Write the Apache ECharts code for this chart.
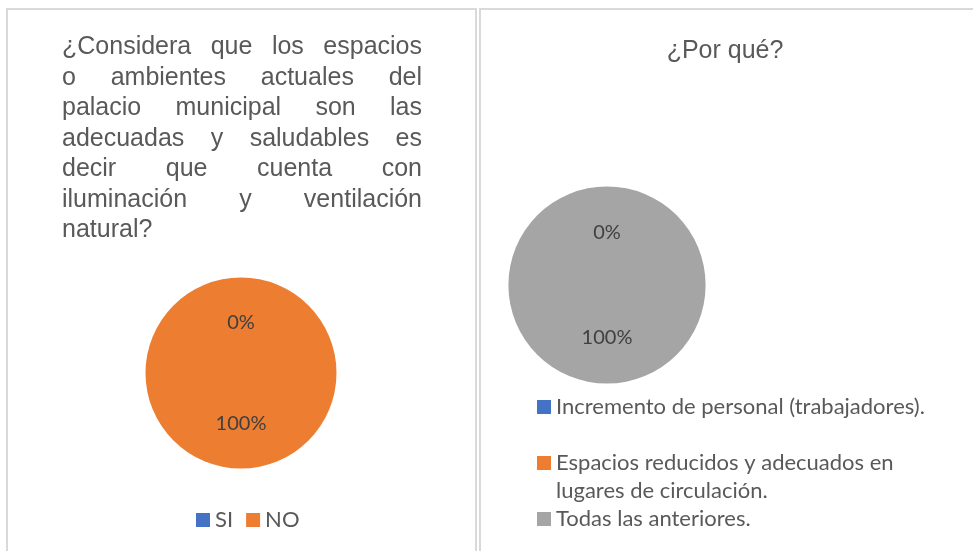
<!DOCTYPE html>
<html lang="es">
<head>
    <meta charset="UTF-8">
    <title>Encuesta palacio municipal</title>
    <style>
        body { margin: 0; background: #fff; }
        #chart { width: 973px; height: 551px; }
    </style>
</head>
<body>
<div id="chart"></div>
<script src="https://cdn.jsdelivr.net/npm/echarts@6/dist/echarts.min.js"></script>
<script type="text/javascript">
    // datos del primer gráfico
    var respuestas = ['SI', 'NO'];
    var valoresRespuesta = [0, 100];
    // datos del segundo gráfico (¿Por qué?)
    var motivos = [
        'Incremento de personal (trabajadores).',
        'Espacios reducidos y adecuados en lugares de circulación.',
        'Todas las anteriores.'
    ];
    var valoresMotivo = [0, 0, 100];
    var colores = ['#4472C4', '#ED7D31', '#A5A5A5'];

    // lineas del titulo izquierdo (texto justificado)
    var tituloLineas = [
        '¿Considera que los espacios',
        'o ambientes actuales del',
        'palacio municipal son las',
        'adecuadas y saludables es',
        'decir que cuenta con',
        'iluminación y ventilación',
        'natural?'
    ];

    var fuenteTitulo = '25px "Liberation Sans", Arial, sans-serif';
    var ctx = document.createElement('canvas').getContext('2d');
    ctx.font = fuenteTitulo;

    // arma el texto justificado palabra por palabra
    function tituloJustificado(lineas, x0, ancho, y0, paso) {
        var out = [];
        lineas.forEach(function (linea, i) {
            var palabras = linea.split(' ');
            var y = y0 + i * paso;
            var ultima = i === lineas.length - 1;
            var total = 0;
            palabras.forEach(function (p) { total += ctx.measureText(p).width; });
            var hueco = (ultima || palabras.length < 2) ? ctx.measureText(' ').width
                : (ancho - total) / (palabras.length - 1);
            var x = x0;
            palabras.forEach(function (p) {
                out.push({
                    type: 'text', x: x, y: y, silent: true,
                    style: { text: p, font: fuenteTitulo, fill: '#595959', verticalAlign: 'middle' }
                });
                x += ctx.measureText(p).width + hueco;
            });
        });
        return out;
    }

    var chart = echarts.init(document.getElementById('chart'));

    var graficos = [
        // marcos de los dos paneles
        { type: 'rect', shape: { x: 7, y: 9, width: 469, height: 600 }, silent: true,
          style: { fill: 'none', stroke: '#d9d9d9', lineWidth: 2 } },
        { type: 'rect', shape: { x: 480, y: 9, width: 600, height: 600 }, silent: true,
          style: { fill: 'none', stroke: '#d9d9d9', lineWidth: 2 } },
        { type: 'text', x: 725, y: 51, silent: true,
          style: { text: '¿Por qué?', font: fuenteTitulo, fill: '#595959', align: 'center', verticalAlign: 'middle' } }
    ].concat(tituloJustificado(tituloLineas, 62, 360, 47.5, 30.5));

    var etiqueta = {
        show: true,
        position: 'inside',
        formatter: '{d}%',
        fontFamily: 'Lato',
        fontSize: 20,
        color: '#404040'
    };

    var option = {
        animation: false,
        color: colores,
        graphic: graficos,
        legend: [
            {
                data: respuestas,
                orient: 'horizontal',
                left: 196,
                top: 509,
                padding: 0,
                itemGap: 13,
                itemWidth: 14,
                itemHeight: 14,
                icon: 'rect',
                selectedMode: false,
                textStyle: { fontFamily: 'Lato', fontSize: 22, color: '#595959', lineHeight: 22 }
            },
            {
                data: motivos,
                orient: 'vertical',
                left: 537,
                top: 393,
                padding: 0,
                itemGap: 0,
                itemWidth: 14,
                itemHeight: 14,
                icon: 'rect',
                selectedMode: false,
                formatter: function (name) {
                    if (name === motivos[1]) {
                        return '\u00a0\nEspacios reducidos y adecuados en\nlugares de circulación.';
                    }
                    return name;
                },
                textStyle: { fontFamily: 'Lato', fontSize: 22, color: '#595959', lineHeight: 28 }
            }
        ],
        series: [
            {
                name: 'Pregunta',
                type: 'pie',
                center: [241, 373],
                radius: 95.5,
                startAngle: 90,
                avoidLabelOverlap: false,
                label: etiqueta,
                labelLine: { show: false },
                emphasis: { disabled: true },
                data: respuestas.map(function (n, i) {
                    return { name: n, value: valoresRespuesta[i], itemStyle: { color: colores[i] } };
                })
            },
            {
                name: 'Por qué',
                type: 'pie',
                center: [607, 285],
                radius: 98.6,
                startAngle: 90,
                avoidLabelOverlap: false,
                label: etiqueta,
                labelLine: { show: false },
                emphasis: { disabled: true },
                data: motivos.map(function (n, i) {
                    return { name: n, value: valoresMotivo[i], itemStyle: { color: colores[i] } };
                })
            }
        ]
    };
    chart.setOption(option);
</script>
</body>
</html>
